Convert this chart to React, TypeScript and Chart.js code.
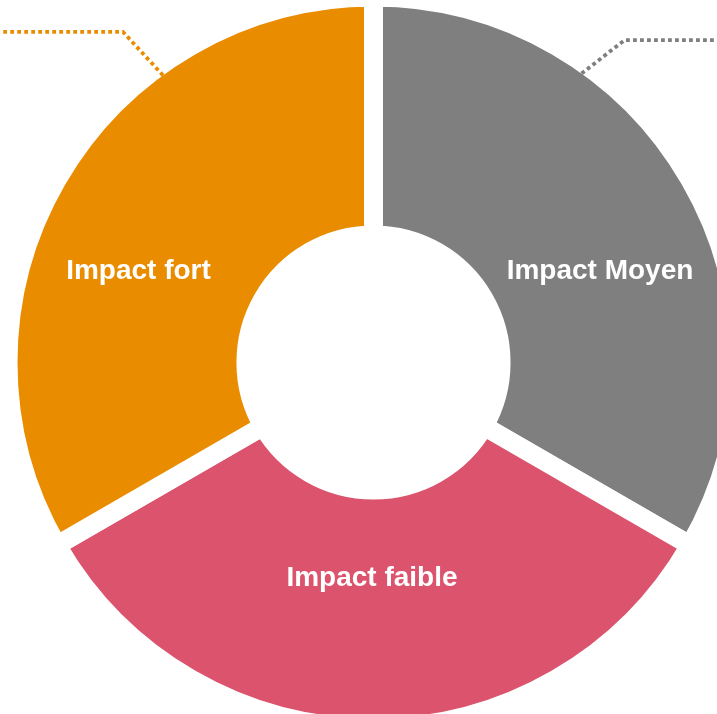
import React, { useEffect, useRef } from "react";
import { Chart, registerables } from "chart.js";

Chart.register(...registerables);

const categories = ["Impact Moyen", "Impact faible", "Impact fort"];
const shares = [33.3, 33.3, 33.3];
const sliceColors = ["#7F7F7F", "#DB536C", "#EA8C00"];

// label nudges from the slice centroid (px)
const labelNudges: [number, number][] = [
  [13, 32],
  [-1.5, -31],
  [-21.5, 32],
];

// leader lines: slice index, fraction along the slice, elbow offset, direction
const leaders = [
  { index: 0, at: 0.298, elbow: [43, -33.5], dir: 1 },
  { index: 2, at: 0.698, elbow: [-40, -43.4], dir: -1 },
];

const GAP = 19;

const labelPlugin = {
  id: "sliceLabels",
  afterDatasetsDraw(chart: any) {
    const ctx = chart.ctx;
    const meta = chart.getDatasetMeta(0);
    ctx.save();
    // leader lines
    leaders.forEach((l) => {
      const arc = meta.data[l.index];
      const p = arc.getProps(["x", "y", "startAngle", "endAngle", "outerRadius"], true);
      const a = p.startAngle + (p.endAngle - p.startAngle) * l.at;
      const r = p.outerRadius - GAP / 2;
      const sx = p.x + Math.cos(a) * r;
      const sy = p.y + Math.sin(a) * r;
      const ex = sx + l.elbow[0];
      const ey = sy + l.elbow[1];
      const endX = l.dir > 0 ? chart.width : 0;
      ctx.beginPath();
      ctx.strokeStyle = sliceColors[l.index];
      ctx.lineWidth = 3.8;
      ctx.setLineDash([3.8, 3.2]);
      ctx.lineCap = "butt";
      ctx.moveTo(sx, sy);
      ctx.lineTo(ex, ey);
      ctx.lineTo(endX, ey);
      ctx.stroke();
    });
    ctx.setLineDash([]);
    // labels
    ctx.fillStyle = "#FFFFFF";
    ctx.font = 'bold 28px "Liberation Sans", Arial, sans-serif';
    ctx.textAlign = "center";
    ctx.textBaseline = "middle";
    meta.data.forEach((arc: any, i: number) => {
      const p = arc.getProps(["x", "y", "startAngle", "endAngle", "innerRadius", "outerRadius"], true);
      const a = (p.startAngle + p.endAngle) / 2;
      const r = (p.innerRadius + p.outerRadius) / 2;
      const x = p.x + Math.cos(a) * r + labelNudges[i][0];
      const y = p.y + Math.sin(a) * r + labelNudges[i][1];
      ctx.fillText(categories[i], x, y);
    });
    ctx.restore();
  },
};

export default function App() {
  const ref = useRef<HTMLCanvasElement>(null);

  useEffect(() => {
    if (!ref.current) return;
    const chart = new Chart(ref.current, {
      type: "doughnut",
      data: {
        labels: categories,
        datasets: [
          {
            data: shares,
            backgroundColor: sliceColors,
            borderColor: "#FFFFFF",
            borderWidth: GAP,
            borderAlign: "center",
            hoverOffset: 0,
          },
        ],
      },
      options: {
        animation: false,
        responsive: true,
        maintainAspectRatio: false,
        radius: 365.5,
        cutout: "34.9%",
        events: [],
        layout: { padding: 0 },
        plugins: {
          legend: { display: false },
          tooltip: { enabled: false },
          title: { display: false },
        },
      },
      plugins: [labelPlugin],
    } as any);
    return () => chart.destroy();
  }, []);

  return (
    <div
      style={{
        position: "fixed",
        left: 0,
        top: 0,
        width: "100vw",
        height: "100vh",
        overflow: "hidden",
        background: "#FFFFFF",
      }}
    >
      <div
        style={{
          position: "absolute",
          left: -7,
          top: -18,
          width: 761,
          height: 761,
        }}
      >
        <canvas ref={ref} />
      </div>
    </div>
  );
}
